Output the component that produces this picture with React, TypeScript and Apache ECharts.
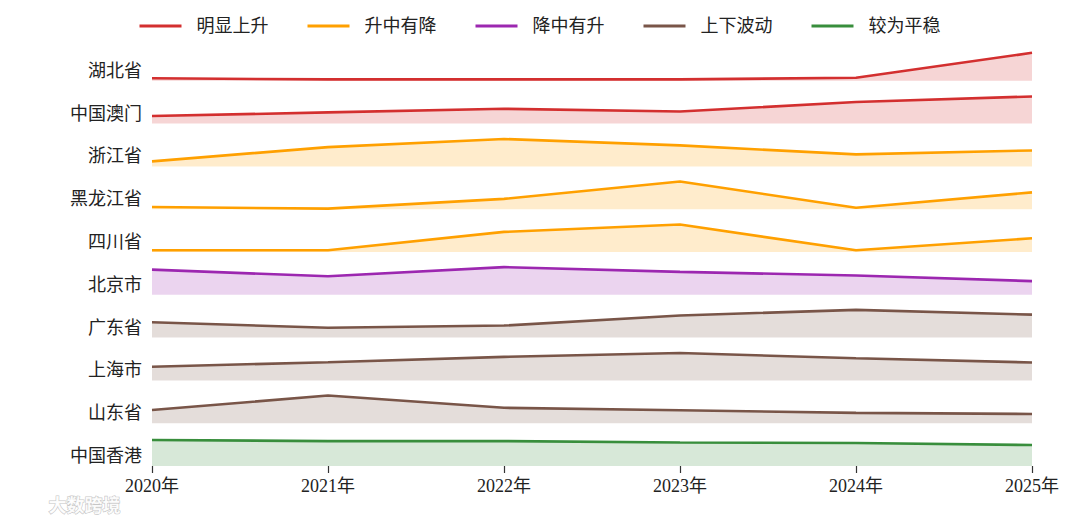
import React, { useEffect, useRef } from "react";
import * as echarts from "echarts";

const years = ["2020年", "2021年", "2022年", "2023年", "2024年", "2025年"];
const legendNames = ["明显上升", "升中有降", "降中有升", "上下波动", "较为平稳"];
const lineColors = ["#d32f2f", "#ffa000", "#9c27b0", "#795548", "#388e3c"];
const fillColors = [
  "rgba(211,47,47,0.2)",
  "rgba(255,160,0,0.2)",
  "rgba(156,39,176,0.2)",
  "rgba(121,85,72,0.2)",
  "rgba(56,142,60,0.2)",
];

// rows from top to bottom
const rowNames = ["湖北省", "中国澳门", "浙江省", "黑龙江省", "四川省", "北京市", "广东省", "上海市", "山东省", "中国香港"];
const rowGroup = [0, 0, 1, 1, 1, 2, 3, 3, 3, 4];

// relative values per row
const hubei = [0.09, 0.05, 0.05, 0.05, 0.11, 1.0];
const macau = [0.27, 0.4, 0.53, 0.43, 0.77, 0.97];
const zhejiang = [0.18, 0.69, 0.98, 0.75, 0.43, 0.57];
const heilongjiang = [0.08, 0.02, 0.37, 0.99, 0.05, 0.6];
const sichuan = [0.06, 0.06, 0.72, 0.98, 0.06, 0.49];
const beijing = [0.9, 0.66, 0.99, 0.82, 0.69, 0.49];
const guangdong = [0.55, 0.35, 0.43, 0.79, 0.99, 0.82];
const shanghai = [0.49, 0.65, 0.84, 0.98, 0.79, 0.64];
const shandong = [0.47, 0.99, 0.55, 0.46, 0.37, 0.33];
const hongkong = [0.93, 0.89, 0.89, 0.84, 0.82, 0.75];

const rowValues = [hubei, macau, zhejiang, heilongjiang, sichuan, beijing, guangdong, shanghai, shandong, hongkong];

const rowScale = 0.654; // peak height relative to row spacing

const FONT = "'Liberation Serif', 'Noto Sans CJK SC', serif";

export default function App() {
  const ref = useRef<HTMLDivElement>(null);

  useEffect(() => {
    if (!ref.current) return;
    const chart = echarts.init(ref.current, undefined, { renderer: "svg" });
    const n = rowNames.length;
    const series: any[] = [];
    rowNames.forEach((name, i) => {
      const base = n - 1 - i;
      const g = rowGroup[i];
      series.push({
        type: "line",
        name: "base_" + name,
        stack: "row" + i,
        data: years.map(() => base),
        symbol: "none",
        silent: true,
        lineStyle: { width: 0, opacity: 0 },
        z: 1,
      });
      series.push({
        type: "line",
        name: legendNames[g],
        stack: "row" + i,
        data: rowValues[i].map((v) => v * rowScale),
        symbol: "none",
        itemStyle: { color: lineColors[g] },
        lineStyle: { color: lineColors[g], width: 2.6 },
        areaStyle: { color: fillColors[g], opacity: 1 },
        z: 2,
      });
    });

    chart.setOption({
      animation: false,
      backgroundColor: "#ffffff",
      legend: {
        data: legendNames,
        left: "center",
        top: 12,
        icon: "rect",
        itemWidth: 42,
        itemHeight: 3,
        itemGap: 39,
        textStyle: {
          fontFamily: FONT,
          fontSize: 18,
          color: "#222",
          padding: [0, 0, 0, 10],
        },
      },
      grid: { left: 152, right: 48, top: 38, bottom: 53, containLabel: false },
      xAxis: {
        type: "category",
        data: years,
        boundaryGap: false,
        axisLine: { show: false },
        axisTick: { show: true, length: 7, lineStyle: { color: "#333", width: 1.2 } },
        axisLabel: { fontFamily: FONT, fontSize: 18, color: "#222", margin: 11 },
        splitLine: { show: false },
      },
      yAxis: {
        type: "value",
        min: 0,
        max: 10,
        interval: 1,
        axisLine: { show: false },
        axisTick: { show: false },
        splitLine: { show: false },
        axisLabel: {
          fontFamily: FONT,
          fontSize: 18,
          color: "#222",
          margin: 10,
          verticalAlign: "bottom",
          lineHeight: 20,
          formatter: (v: number) => {
            const k = Math.round(v);
            const idx = n - 1 - k;
            return idx >= 0 && idx < n ? rowNames[idx] : "";
          },
        },
      },
      graphic: [
        {
          type: "text",
          left: 48,
          top: 494,
          silent: true,
          style: {
            text: "大数跨境",
            fontFamily: "'Noto Sans CJK SC', sans-serif",
            fontWeight: "bold",
            fontSize: 18,
            lineHeight: 20,
            fill: "rgba(255,255,255,0.9)",
            stroke: "rgba(160,160,160,0.6)",
            lineWidth: 1.2,
          },
        },
      ],
      series,
    });
    return () => chart.dispose();
  }, []);

  return (
    <div
      ref={ref}
      style={{ position: "fixed", left: 0, top: 0, width: 1080, height: 519 }}
    />
  );
}
